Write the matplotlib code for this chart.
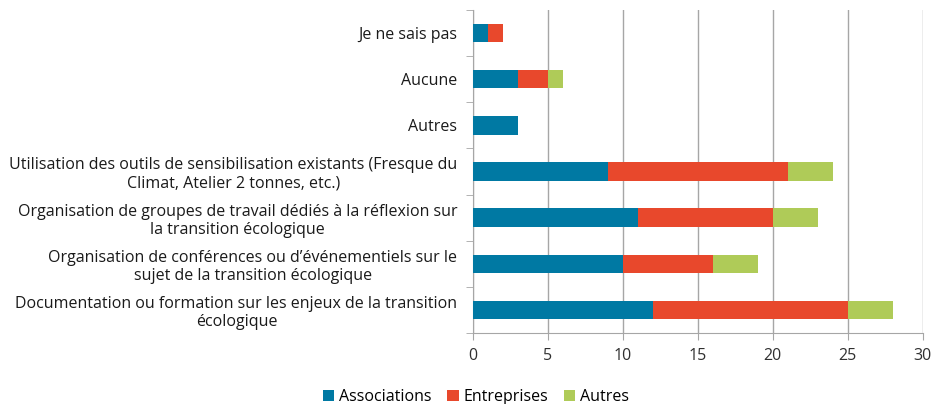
import matplotlib
matplotlib.use("Agg")
import matplotlib.pyplot as plt
import numpy as np

categories = [
    "Documentation ou formation sur les enjeux de la transition\nécologique",
    "Organisation de conférences ou d’événementiels sur le\nsujet de la transition écologique",
    "Organisation de groupes de travail dédiés à la réflexion sur\nla transition écologique",
    "Utilisation des outils de sensibilisation existants (Fresque du\nClimat, Atelier 2 tonnes, etc.)",
    "Autres",
    "Aucune",
    "Je ne sais pas",
]
associations = [12, 10, 11, 9, 3, 3, 1]
entreprises = [13, 6, 9, 12, 0, 2, 1]
autres = [3, 3, 3, 3, 0, 1, 0]
series_names = ["Associations", "Entreprises", "Autres"]
colors = ["#0079A3", "#E8482C", "#AFCB58"]
xticks = [0, 5, 10, 15, 20, 25, 30]

plt.rcParams['font.family'] = ['Open Sans', 'DejaVu Sans']
fig = plt.figure(figsize=(9.36, 4.04), dpi=100)
ax = fig.add_axes([472.7 / 936, 1 - 333 / 404, (922.7 - 472.7) / 936, (333 - 10) / 404])

y = np.arange(len(categories))
left = np.zeros(len(categories))
for vals, name, c in zip([associations, entreprises, autres], series_names, colors):
    vals = np.array(vals, dtype=float)
    ax.barh(y, vals, left=left, height=0.40, color=c, label=name, zorder=3)
    left += vals

ax.set_xlim(0, 30)
ax.set_ylim(-0.5, len(categories) - 0.5)
ax.set_xticks(xticks)
ax.set_xticklabels([str(t) for t in xticks], fontsize=11.5, color="#303030")
ax.grid(axis='x', color="#A6A6A6", linewidth=1, zorder=0)

ax.set_yticks(y)
ax.set_yticklabels(categories, fontsize=11.5, color="#1a1a1a", multialignment='center')
ax.tick_params(axis='y', length=0, pad=11)
ax.set_yticks(np.arange(-0.5, len(categories), 1), minor=True)
ax.tick_params(axis='y', which='minor', length=5, color="#A6A6A6")
ax.tick_params(axis='x', length=5, color="#A6A6A6", direction='out', pad=6)

for s in ['top', 'right']:
    ax.spines[s].set_visible(False)
for s in ['left', 'bottom']:
    ax.spines[s].set_color("#A6A6A6")

leg = ax.legend(loc='center', bbox_to_anchor=(476 / 936, 0.018), bbox_transform=fig.transFigure,
          ncol=3, frameon=False, fontsize=11.5, handlelength=0.7, handleheight=0.7,
          handletextpad=0.3, columnspacing=1.0)

fig.savefig("out.png", dpi=100)
